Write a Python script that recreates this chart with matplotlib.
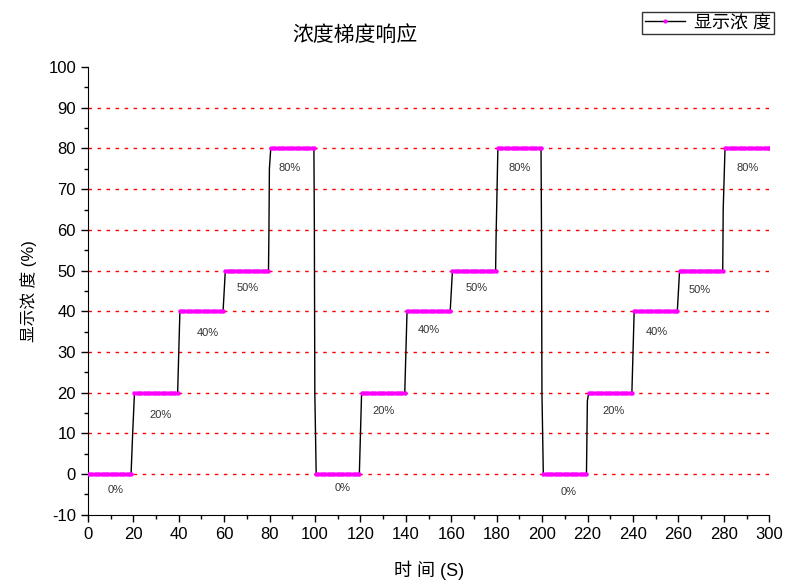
import numpy as np
import matplotlib
matplotlib.use("Agg")
import matplotlib.pyplot as plt

plt.rcParams['font.family'] = ['Liberation Sans', 'Noto Sans CJK SC', 'DejaVu Sans']
plt.rcParams['axes.unicode_minus'] = False

# concentration levels (%) held for 20 s each, three cycles
levels = [0, 20, 40, 50, 80, 0, 20, 40, 50, 80, 0, 20, 40, 50, 80]
hold = 20
# values seen part-way through each of the 14 jumps (small jogs on the vertical)
jumps = [[10], [], [], [60, 75], [60, 20],
         [], [], [], [58], [60, 20],
         [10, 18], [], [], [65]]

label_text = ["0%", "20%", "40%", "50%", "80%"] * 3
label_x = [12, 32, 53, 70.5, 89, 112, 130, 150, 171, 190, 211.5, 231.5, 250.5, 269.5, 290.5]
label_y = [-3.9, 14.6, 34.7, 45.7, 75.2, -3.4, 15.5, 35.4, 45.7, 75.2, -4.4, 15.5, 34.9, 45.2, 75.2]

# build the time series (1 s sampling on the flats)
t_all, v_all = [], []
flat_t, flat_v = [], []
for k, lev in enumerate(levels):
    start = k * hold
    ts = np.arange(start + 0.5 if k else start, start + hold, 1.0)
    t_all.extend(ts)
    v_all.extend([lev] * len(ts))
    flat_t.extend(ts)
    flat_v.extend([lev] * len(ts))
    if k < len(jumps):
        edge = start + hold
        for j, mid in enumerate(jumps[k]):
            t_all.append(edge - 0.3 + 0.2 * j)
            v_all.append(mid)
t_all.append(300)
v_all.append(levels[-1])
flat_t.append(300)
flat_v.append(levels[-1])

fig = plt.figure(figsize=(7.85, 5.83), dpi=100)
ax = fig.add_axes([0.112, 0.117, 0.868, 0.768])

for yy in range(0, 100, 10):
    ax.axhline(yy, color='red', linestyle=(0, (2.5, 4)), linewidth=1.0, zorder=1)

ax.plot(t_all, v_all, color='black', linewidth=1.0, zorder=2)
ax.plot(flat_t, flat_v, linestyle='none', marker='o', markersize=2.2,
        color='magenta', zorder=3)
line_proxy, = ax.plot([], [], color='black', linewidth=1.0, marker='.',
                      markersize=4, markerfacecolor='magenta',
                      markeredgecolor='magenta')

for s, x, y in zip(label_text, label_x, label_y):
    ax.text(x, y, s, fontsize=8, ha='center', va='center', color='#333333')

ax.set_xlim(0, 300)
ax.set_ylim(-10, 100)
ax.set_xticks(np.arange(0, 301, 20))
ax.set_xticks(np.arange(0, 301, 10), minor=True)
ax.set_yticks(np.arange(-10, 101, 10))
ax.set_yticks(np.arange(-10, 101, 5), minor=True)
ax.tick_params(which='major', direction='out', length=5, width=1, labelsize=12)
ax.tick_params(which='minor', direction='out', length=3, width=1)
ax.spines['top'].set_visible(False)
ax.spines['right'].set_visible(False)

fig.text(0.452, 0.94, "浓度梯度响应", fontsize=15, ha='center', va='center')
ax.set_xlabel("时 间 (S)", fontsize=13, labelpad=14)
ax.set_ylabel("显示浓 度 (%)", fontsize=12, labelpad=8)

fig.legend([line_proxy], ["显示浓 度"], loc='upper right',
           bbox_to_anchor=(0.997, 0.995), fontsize=13, frameon=True,
           fancybox=False, edgecolor='black', handlelength=2.2,
           borderpad=0.15, handletextpad=0.5)

fig.savefig("out.png", dpi=100)
